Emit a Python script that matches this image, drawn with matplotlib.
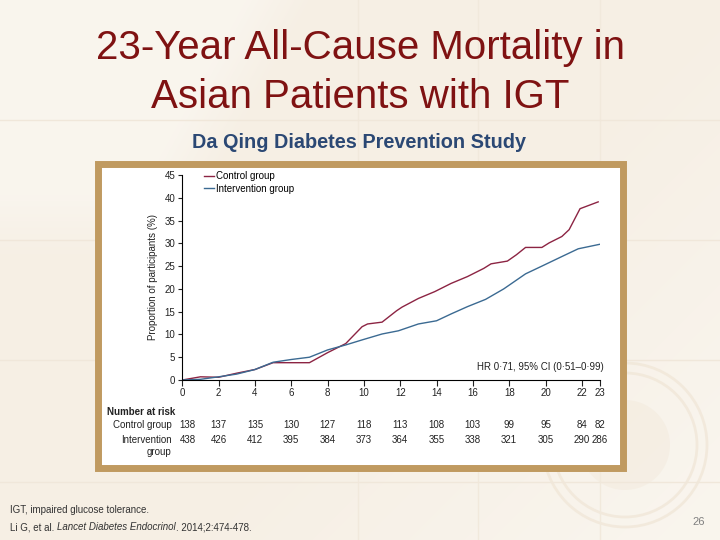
import numpy as np
import matplotlib
matplotlib.use("Agg")
import matplotlib.pyplot as plt
from matplotlib.patches import Rectangle, Circle

# data
ctrl_x = [0, 1, 2, 3, 4, 5, 6, 7, 8, 9, 9.9, 10.2, 11, 11.8, 12.1, 13, 13.9, 14.8,
          15.7, 16.6, 17, 17.9, 18.4, 18.9, 19.8, 20.2, 20.9, 21.3, 21.9, 22.9]
ctrl_y = [0, 0.7, 0.6, 1.5, 2.3, 3.8, 3.8, 3.8, 6.0, 8.0, 11.7, 12.3, 12.7, 15.2,
          16.0, 17.9, 19.4, 21.2, 22.7, 24.5, 25.5, 26.1, 27.5, 29.1, 29.1, 30.1,
          31.5, 33.0, 37.6, 39.1]
int_x = [0, 1, 2, 3, 4, 5, 6, 7, 8, 9, 9.9, 11, 11.9, 13, 14, 14.8, 15.7, 16.7,
         17.7, 18.9, 19.8, 20.9, 21.8, 23]
int_y = [0, 0.15, 0.7, 1.3, 2.3, 3.9, 4.5, 5.0, 6.6, 7.7, 8.8, 10.1, 10.8, 12.3,
         13.0, 14.5, 16.1, 17.7, 20.0, 23.3, 25.0, 27.1, 28.8, 29.8]

risk_years = [0, 2, 4, 6, 8, 10, 12, 14, 16, 18, 20, 22, 23]
risk_ctrl = [138, 137, 135, 130, 127, 118, 113, 108, 103, 99, 95, 84, 82]
risk_int = [438, 426, 412, 395, 384, 373, 364, 355, 338, 321, 305, 290, 286]

W, H = 720, 540
fig = plt.figure(figsize=(7.2, 5.4), dpi=100)

# slide background: beige, a pale swoosh top-left, lighter towards bottom right
bg = fig.add_axes([0, 0, 1, 1])
yy, xx = np.mgrid[0:H, 0:W]
edge = 245 - 0.55 * yy
t = np.clip((xx - edge) / 70.0, 0, 1)
t = 0.45 + 0.55 * t
t = np.maximum(t, np.clip((yy - 140) / 120.0, 0, 1))
t = t * (1 - 0.55 * np.clip((xx + yy - 700) / 500.0, 0, 1))
beige = np.array([246, 239, 228]) / 255.0
white = np.array([252, 250, 246]) / 255.0
img = white[None, None, :] * (1 - t[..., None]) + beige[None, None, :] * t[..., None]
bg.imshow(img, extent=[0, W, H, 0], aspect="auto", zorder=0)
bg.set_xlim(0, W)
bg.set_ylim(H, 0)
bg.axis("off")
# faint seal watermark and slide grid
for r in [82, 72]:
    bg.add_patch(Circle((625, 445), r, fill=False, ec="#eee3d2", lw=2, alpha=0.6, zorder=1))
bg.add_patch(Circle((625, 445), 45, fc="#f1e7d8", ec="none", alpha=0.4, zorder=1))
for gx in [358, 478, 600]:
    bg.axvline(gx, color="#f1e9dc", lw=1, zorder=1)
for gy in [120, 240, 360, 482]:
    bg.axhline(gy, color="#f0e7da", lw=1, zorder=1)

# picture frame
bg.add_patch(Rectangle((97.5, 163.5), 525, 304, fc="white", ec="#c09a60", lw=5, zorder=2))

# titles
bg.text(360, 48, "23-Year All-Cause Mortality in", ha="center", va="center",
        fontsize=29, color="#7f1212", family="Liberation Sans", zorder=3)
bg.text(360, 97, "Asian Patients with IGT", ha="center", va="center",
        fontsize=29, color="#7f1212", family="Liberation Sans", zorder=3)
bg.text(359, 143, "Da Qing Diabetes Prevention Study", ha="center", va="center",
        fontsize=14.3, color="#2b4874", fontweight="bold",
        family="Liberation Sans", zorder=3)

# footnotes
bg.text(10, 513, "IGT, impaired glucose tolerance.", ha="left", va="baseline",
        fontsize=7, color="#333333", family="Liberation Sans", zorder=3)
renderer = fig.canvas.get_renderer()
xpos = 10
for piece, sty in [("Li G, et al. ", "normal"), ("Lancet Diabetes Endocrinol", "italic"),
                   (". 2014;2:474-478.", "normal")]:
    tx = bg.text(xpos, 530, piece, ha="left", va="baseline", fontsize=7,
                 color="#333333", family="Liberation Sans", style=sty, zorder=3)
    xpos += tx.get_window_extent(renderer).width
bg.text(699, 522, "26", ha="center", va="center", fontsize=8,
        color="#808080", family="Liberation Sans", zorder=3)

# chart
cf = "Liberation Sans"
x0, x1, y0, y1 = 182.3, 600, 380, 175
ax = fig.add_axes([x0 / W, (H - y0) / H, (x1 - x0) / W, (y0 - y1) / H])
ax.plot(ctrl_x, ctrl_y, color="#8c2443", lw=1, label="Control group")
ax.plot(int_x, int_y, color="#3b6a92", lw=1, label="Intervention group")
ax.set_xlim(0, 23)
ax.set_ylim(0, 45)
ax.set_xticks(risk_years)
ax.set_yticks(range(0, 46, 5))
ax.spines["top"].set_visible(False)
ax.spines["right"].set_visible(False)
ax.spines["left"].set_linewidth(0.8)
ax.spines["bottom"].set_linewidth(0.8)
ax.tick_params(axis="x", length=4, width=0.8, labelsize=7, pad=2, colors="#222222")
ax.tick_params(axis="y", length=3, width=0.8, labelsize=7, pad=2, colors="#222222")
for lab in ax.get_xticklabels() + ax.get_yticklabels():
    lab.set_family(cf)
ax.set_ylabel("Proportion of participants (%)", fontsize=7, family=cf,
              color="#222222", labelpad=5)
ax.patch.set_alpha(0)
ax.legend(loc="upper left", bbox_to_anchor=(0.03, 1.06), frameon=False,
          handlelength=1.1, handletextpad=0.15, labelspacing=0.25,
          prop={"family": cf, "size": 7})
ax.text(1.008, 0.065, "HR 0·71, 95% CI (0·51–0·99)", transform=ax.transAxes,
        ha="right", va="center", fontsize=7, family=cf, color="#222222")

# number at risk table
tr = ax.get_xaxis_transform()
ax.text(-0.18, -0.156, "Number at risk", transform=ax.transAxes, ha="left",
        va="center", fontsize=7, family=cf, fontweight="bold", color="#222222")
ax.text(-0.025, -0.22, "Control group", transform=ax.transAxes, ha="right",
        va="center", fontsize=7, family=cf, color="#222222")
ax.text(-0.025, -0.293, "Intervention", transform=ax.transAxes, ha="right",
        va="center", fontsize=7, family=cf, color="#222222")
ax.text(-0.025, -0.351, "group", transform=ax.transAxes, ha="right",
        va="center", fontsize=7, family=cf, color="#222222")
for yr, c, i in zip(risk_years, risk_ctrl, risk_int):
    xp = yr + 0.3 if yr == 0 else yr
    ax.text(xp, -0.22, str(c), transform=tr, ha="center",
            va="center", fontsize=7, family=cf, color="#222222")
    ax.text(xp, -0.293, str(i), transform=tr, ha="center",
            va="center", fontsize=7, family=cf, color="#222222")

fig.savefig("out.png", dpi=100)
